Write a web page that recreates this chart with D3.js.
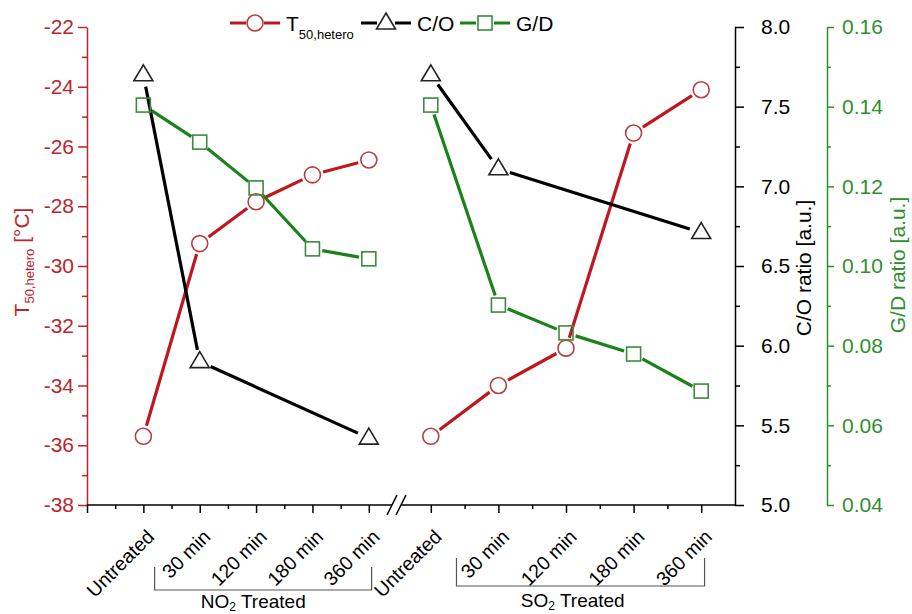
<!DOCTYPE html>
<html><head><meta charset="utf-8">
<script src="https://cdn.jsdelivr.net/npm/d3@7/dist/d3.min.js"></script>
<style>
body{margin:0;background:#fff}
svg{display:block}
text{font-family:"Liberation Sans",Arial,sans-serif}
</style>
</head><body>
<svg id="chart" width="912" height="614"></svg>
<script>
// Treatment steps (shared by both gas groups)
const categories = ["Untreated", "30 min", "120 min", "180 min", "360 min"];

// T50,hetero [°C]
const t50NO2 = [-35.7, -29.25, -27.85, -26.95, -26.45];
const t50SO2 = [-35.7, -34.0, -32.75, -25.55, -24.1];
// C/O ratio (measured only at three steps)
const coNO2 = [7.70, 5.90, null, null, 5.42];
const coSO2 = [7.70, 7.11, null, null, 6.71];
// G/D ratio
const gdNO2 = [0.1404, 0.1311, 0.1196, 0.1043, 0.1018];
const gdSO2 = [0.1404, 0.0902, 0.0832, 0.0779, 0.0686];

// Axis ticks
const t50Ticks = [-22, -24, -26, -28, -30, -32, -34, -36, -38];
const t50Minor = [-23, -25, -27, -29, -31, -33, -35, -37];
const coTicks = [8.0, 7.5, 7.0, 6.5, 6.0, 5.5, 5.0];
const coMinor = [7.75, 7.25, 6.75, 6.25, 5.75, 5.25];
const gdTicks = [0.16, 0.14, 0.12, 0.10, 0.08, 0.06, 0.04];
const gdMinor = [0.15, 0.13, 0.11, 0.09, 0.07, 0.05];
const groupLabels = ["NO", "SO"];

const RED = "#c0161e", RED_AX = "#bb252b", RED_MK = "#b5403f";
const GREEN = "#1a821a", GREEN_AX = "#2f8f2f", GREEN_MK = "#3d8a3d";
const BLACK = "#000", BLACK_MK = "#222";

const svg = d3.select("#chart");
const plotTop = 27, plotBottom = 505;

const yT = d3.scaleLinear().domain([-38, -22]).range([plotBottom, plotTop]);
const yCO = d3.scaleLinear().domain([5, 8]).range([plotBottom, plotTop]);
const yGD = d3.scaleLinear().domain([0.04, 0.16]).range([plotBottom, plotTop]);
// Two broken x segments: NO2 group and SO2 group
const xNO2 = d3.scaleLinear().domain([0, 5.5]).range([87, 397]);
const xSO2 = d3.scaleLinear().domain([0.5, 5.5]).range([397, 735]);

const leftX = xNO2.range()[0], coX = xSO2.range()[1], gdX = 827;

// ---------- axes ----------
function styleAxis(g, color, size) {
  g.selectAll("path.domain").attr("stroke", color).attr("stroke-width", 1.5);
  g.selectAll(".tick line").attr("stroke", color).attr("stroke-width", 1.5);
  g.selectAll(".tick text").attr("fill", color).style("font-size", size + "px")
    .style("font-family", '"Liberation Sans", Arial, sans-serif');
}

// Left T50 axis
const gT = svg.append("g").attr("transform", `translate(${leftX},0)`)
  .call(d3.axisLeft(yT).tickValues(t50Ticks).tickSize(9).tickSizeOuter(0).tickPadding(4).tickFormat(d => String(d)));
styleAxis(gT, RED_AX, 21);
const gTm = svg.append("g").attr("transform", `translate(${leftX},0)`)
  .call(d3.axisLeft(yT).tickValues(t50Minor).tickSize(5).tickFormat(""));
gTm.select("path.domain").remove();
styleAxis(gTm, RED_AX, 21);

// C/O axis
const gC = svg.append("g").attr("transform", `translate(${coX},0)`)
  .call(d3.axisRight(yCO).tickValues(coTicks).tickSize(9).tickSizeOuter(0).tickPadding(17).tickFormat(d3.format(".1f")));
styleAxis(gC, BLACK, 21);
const gCm = svg.append("g").attr("transform", `translate(${coX},0)`)
  .call(d3.axisRight(yCO).tickValues(coMinor).tickSize(5).tickFormat(""));
gCm.select("path.domain").remove();
styleAxis(gCm, BLACK, 21);

// G/D axis
const gG = svg.append("g").attr("transform", `translate(${gdX},0)`)
  .call(d3.axisRight(yGD).tickValues(gdTicks).tickSize(7).tickSizeOuter(0).tickPadding(8).tickFormat(d3.format(".2f")));
styleAxis(gG, GREEN_AX, 21);
const gGm = svg.append("g").attr("transform", `translate(${gdX},0)`)
  .call(d3.axisRight(yGD).tickValues(gdMinor).tickSize(4).tickFormat(""));
gGm.select("path.domain").remove();
styleAxis(gGm, GREEN_AX, 21);

// Bottom broken axis
function bottomAxis(scale, major, minor) {
  const g = svg.append("g").attr("transform", `translate(0,${plotBottom})`)
    .call(d3.axisBottom(scale).tickValues(major).tickSize(8).tickFormat(""));
  g.select("path.domain").remove();
  styleAxis(g, BLACK, 19);
  const gm = svg.append("g").attr("transform", `translate(0,${plotBottom})`)
    .call(d3.axisBottom(scale).tickValues(minor).tickSize(4).tickFormat(""));
  gm.select("path.domain").remove();
  styleAxis(gm, BLACK, 19);
  // rotated category labels
  svg.append("g").selectAll("text").data(categories).join("text")
    .attr("transform", (d, i) => `translate(${scale(i + 1) + 12},${plotBottom + 33}) rotate(-45)`)
    .attr("text-anchor", "end")
    .style("font-size", "19.5px").attr("fill", "#000")
    .text(d => d);
}
bottomAxis(xNO2, [0, 1, 2, 3, 4, 5], [0.5, 1.5, 2.5, 3.5, 4.5]);
bottomAxis(xSO2, [1, 2, 3, 4, 5], [1.5, 2.5, 3.5, 4.5]);

const breakX = xNO2(5.5);
const b1 = breakX - 5, b2 = breakX + 4;
svg.append("line").attr("x1", leftX).attr("x2", b1).attr("y1", plotBottom).attr("y2", plotBottom)
  .attr("stroke", BLACK).attr("stroke-width", 1.5);
svg.append("line").attr("x1", b2).attr("x2", coX).attr("y1", plotBottom).attr("y2", plotBottom)
  .attr("stroke", BLACK).attr("stroke-width", 1.5);
[b1, b2].forEach(cx => {
  svg.append("line").attr("x1", cx - 5).attr("y1", plotBottom + 10).attr("x2", cx + 5).attr("y2", plotBottom - 10)
    .attr("stroke", BLACK).attr("stroke-width", 1.5);
});

// Group brackets
function bracket(scale, a, b, y0, y1, label, tx, ty) {
  const xa = scale(a), xb = scale(b);
  svg.append("path")
    .attr("d", `M${xa},${y0}V${y1}H${xb}V${y0}`)
    .attr("fill", "none").attr("stroke", "#555").attr("stroke-width", 1.2);
  const t = svg.append("text").attr("x", scale(tx)).attr("y", ty)
    .attr("text-anchor", "middle").style("font-size", "19px").attr("fill", "#000");
  t.append("tspan").text(label);
  t.append("tspan").attr("dy", 3).style("font-size", "12px").text("2");
  t.append("tspan").attr("dy", -3).text(" Treated");
}
bracket(xNO2, 1.2, 5.05, 567, 590, groupLabels[0], 2.95, 608);
bracket(xSO2, 1.38, 5.05, 558, 586, groupLabels[1], 3.1, 607);

// ---------- axis titles ----------
const tl = svg.append("text").attr("transform", `translate(29,262) rotate(-90)`)
  .attr("text-anchor", "middle").attr("fill", RED_AX).style("font-size", "21px");
tl.append("tspan").text("T");
tl.append("tspan").attr("dy", 5).style("font-size", "13px").text("50,hetero");
tl.append("tspan").attr("dy", -5).text(" [°C]");

svg.append("text").attr("transform", `translate(811,268) rotate(-90)`)
  .attr("text-anchor", "middle").attr("fill", BLACK).style("font-size", "21px")
  .text("C/O ratio [a.u.]");
svg.append("text").attr("transform", `translate(905,265) rotate(-90)`)
  .attr("text-anchor", "middle").attr("fill", GREEN_AX).style("font-size", "21px")
  .text("G/D ratio [a.u.]");

// ---------- series ----------
const markers = {
  circle: (g, x, y, c) => g.append("circle").attr("cx", x).attr("cy", y).attr("r", 8)
    .attr("fill", "none").attr("stroke", c).attr("stroke-width", 1.6),
  triangle: (g, x, y, c) => g.append("path")
    .attr("d", `M${x},${y - 10}L${x + 9.5},${y + 6}L${x - 9.5},${y + 6}Z`)
    .attr("fill", "none").attr("stroke", c).attr("stroke-width", 1.6),
  square: (g, x, y, c) => g.append("rect").attr("x", x - 7).attr("y", y - 7)
    .attr("width", 14).attr("height", 14)
    .attr("fill", "none").attr("stroke", c).attr("stroke-width", 1.6)
};

const lineLayer = svg.append("g");
const markLayer = svg.append("g");

function gappedLine(g, pts, color, gap) {
  for (let i = 0; i < pts.length - 1; i++) {
    const [x1, y1] = pts[i], [x2, y2] = pts[i + 1];
    const dx = x2 - x1, dy = y2 - y1, L = Math.hypot(dx, dy);
    if (L <= 2 * gap) continue;
    const ux = dx / L, uy = dy / L;
    g.append("line")
      .attr("x1", x1 + ux * gap).attr("y1", y1 + uy * gap)
      .attr("x2", x2 - ux * gap).attr("y2", y2 - uy * gap)
      .attr("stroke", color).attr("stroke-width", 3.2).attr("stroke-linecap", "butt");
  }
}

function drawSeries(xs, values, ys, lineColor, markColor, shape, gap) {
  const pts = values.map((v, i) => v == null ? null : [xs(i + 1), ys(v)]).filter(p => p);
  gappedLine(lineLayer, pts, lineColor, gap);
  pts.forEach(([x, y]) => markers[shape](markLayer, x, y, markColor));
}

[[xNO2, t50NO2, coNO2, gdNO2], [xSO2, t50SO2, coSO2, gdSO2]].forEach(([xs, t, c, g]) => {
  drawSeries(xs, t, yT, RED, RED_MK, "circle", 11);
  drawSeries(xs, c, yCO, BLACK, BLACK_MK, "triangle", 12);
  drawSeries(xs, g, yGD, GREEN, GREEN_MK, "square", 10);
});

// ---------- legend ----------
const legend = svg.append("g");
const ly = 23;
function legendItem(x0, color, mcolor, shape, drawLabel) {
  legend.append("line").attr("x1", x0).attr("x2", x0 + 16).attr("y1", ly).attr("y2", ly)
    .attr("stroke", color).attr("stroke-width", 3);
  markers[shape](legend, x0 + 25, ly, mcolor);
  legend.append("line").attr("x1", x0 + 34).attr("x2", x0 + 50).attr("y1", ly).attr("y2", ly)
    .attr("stroke", color).attr("stroke-width", 3);
  drawLabel(x0 + 56);
}
legendItem(230, RED, RED_MK, "circle", x => {
  const t = legend.append("text").attr("x", x).attr("y", 31).style("font-size", "21px").attr("fill", "#000");
  t.append("tspan").text("T");
  t.append("tspan").attr("dy", 8).style("font-size", "13px").text("50,hetero");
});
legendItem(361, BLACK, BLACK_MK, "triangle", x => {
  legend.append("text").attr("x", x).attr("y", 31).style("font-size", "21px").attr("fill", "#000").text("C/O");
});
legendItem(460, GREEN, GREEN_MK, "square", x => {
  legend.append("text").attr("x", x).attr("y", 31).style("font-size", "21px").attr("fill", "#000").text("G/D");
});
</script>
</body></html>
